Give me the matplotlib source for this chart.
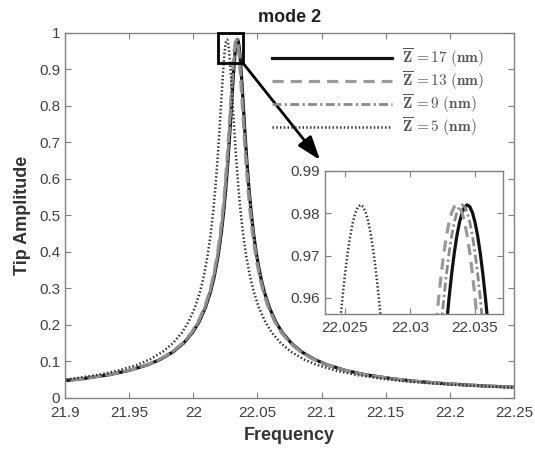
import numpy as np
import matplotlib.pyplot as plt
from matplotlib.patches import Rectangle

# right half of the resonance shape (offset from peak, amplitude); mirrored for the left half
shape_offset = [0.0, 0.0002, 0.0004, 0.0006, 0.0008, 0.001, 0.0012, 0.0014, 0.0016, 0.0018,
                0.002, 0.0024, 0.003, 0.004, 0.005, 0.006, 0.0075, 0.009, 0.0105, 0.0125,
                0.015, 0.018, 0.021, 0.025, 0.03, 0.035, 0.042, 0.05, 0.06, 0.07, 0.085,
                0.10, 0.12, 0.135, 0.14, 0.16, 0.18, 0.2, 0.225]
shape_amp = [0.982, 0.98154, 0.98015, 0.97784, 0.97465, 0.97058, 0.96568, 0.95999, 0.95353, 0.94638,
             0.93857, 0.92121, 0.8916, 0.83632, 0.77837, 0.72158, 0.64314, 0.57494, 0.51687, 0.45306,
             0.39045, 0.33354, 0.29036, 0.24713, 0.20795, 0.17931, 0.15019, 0.1266, 0.10576, 0.09079, 0.07488,
             0.06369, 0.05311, 0.04722, 0.04554, 0.03986, 0.03544, 0.0319, 0.02836]

series_labels = [r'$\overline{\mathbf{Z}}\,\mathbf{=17\ (nm)}$',
                 r'$\overline{\mathbf{Z}}\,\mathbf{=13\ (nm)}$',
                 r'$\overline{\mathbf{Z}}\,\mathbf{=9\ (nm)}$',
                 r'$\overline{\mathbf{Z}}\,\mathbf{=5\ (nm)}$']
peak_freq = [22.0344, 22.0336, 22.0340, 22.0262]

xticks_main = [21.9, 21.95, 22.0, 22.05, 22.1, 22.15, 22.2, 22.25]
xticklabels_main = ['21.9', '21.95', '22', '22.05', '22.1', '22.15', '22.2', '22.25']
yticks_main = [0, 0.1, 0.2, 0.3, 0.4, 0.5, 0.6, 0.7, 0.8, 0.9, 1.0]
yticklabels_main = ['0', '0.1', '0.2', '0.3', '0.4', '0.5', '0.6', '0.7', '0.8', '0.9', '1']
xticks_inset = [22.025, 22.03, 22.035]
yticks_inset = [0.96, 0.97, 0.98, 0.99]

plt.rcParams['font.family'] = ['Liberation Sans', 'DejaVu Sans']
plt.rcParams['mathtext.fontset'] = 'cm'

styles = [dict(color='#111111', lw=2.3, ls='-'),
          dict(color='#9a9a9a', lw=2.3, dashes=(3.5, 2.2)),
          dict(color='#8a8a8a', lw=2.0, dashes=(3.2, 1.2, 0.8, 1.2)),
          dict(color='#333333', lw=1.8, dashes=(0.6, 0.9))]

off = np.array(shape_offset)
amp = np.array(shape_amp)
off_full = np.concatenate([-off[::-1], off[1:]])
amp_full = np.concatenate([amp[::-1], amp[1:]])

spine_col = '#808080'
tick_col = '#404040'


def style_axes(ax, fs, xpad=3.5):
    for s in ax.spines.values():
        s.set_color(spine_col)
        s.set_linewidth(1.0)
    ax.tick_params(direction='in', top=True, right=True, length=4, width=0.8,
                   color=spine_col, labelcolor=tick_col, labelsize=fs)
    ax.tick_params(axis='x', pad=xpad)


fig = plt.figure(figsize=(5.35, 4.5), dpi=100)
ax = fig.add_axes([0.1215, 0.1156, 0.8392, 0.8111])

for lab, pf, st in zip(series_labels, peak_freq, styles):
    ax.plot(pf + off_full, amp_full, label=lab, **st)

ax.set_xlim(21.9, 22.25)
ax.set_ylim(0, 1)
ax.set_xticks(xticks_main)
ax.set_xticklabels(xticklabels_main)
ax.set_yticks(yticks_main)
ax.set_yticklabels(yticklabels_main)
style_axes(ax, 11, xpad=6)
ax.set_xlabel('Frequency', fontsize=13, fontweight='bold', color='#333333', labelpad=5)
ax.set_ylabel('Tip Amplitude', fontsize=13, fontweight='bold', color='#333333', labelpad=6)
ax.set_title('mode 2', fontsize=13, fontweight='bold', color='#222222', pad=8)

leg = ax.legend(loc='upper left', bbox_to_anchor=(0.508, 0.897), bbox_transform=fig.transFigure,
                frameon=False, fontsize=11, handlelength=7.9, handletextpad=0.65,
                labelspacing=0.02, borderpad=0, borderaxespad=0, labelcolor='#555555')

# zoom box and arrow
ax.add_patch(Rectangle((22.0195, 0.9186), 0.019, 0.0814, fill=False, ec='k', lw=2,
                       clip_on=False, zorder=5))
ax.annotate('', xy=(22.0988, 0.652), xytext=(22.0385, 0.9186),
            arrowprops=dict(arrowstyle='-|>,head_length=0.8,head_width=0.28', color='k',
                            lw=2, mutation_scale=18, shrinkA=0, shrinkB=0))

# inset
axi = fig.add_axes([0.6075, 0.3022, 0.3327, 0.3178])
for lab, pf, st in zip(series_labels, peak_freq, styles):
    axi.plot(pf + off_full, amp_full, **st)
axi.set_xlim(22.02346, 22.03715)
axi.set_ylim(0.9562, 0.99)
axi.set_xticks(xticks_inset)
axi.set_xticklabels(['22.025', '22.03', '22.035'])
axi.set_yticks(yticks_inset)
axi.set_yticklabels(['0.96', '0.97', '0.98', '0.99'])
style_axes(axi, 11, xpad=5)

fig.savefig('out.png', dpi=100)
